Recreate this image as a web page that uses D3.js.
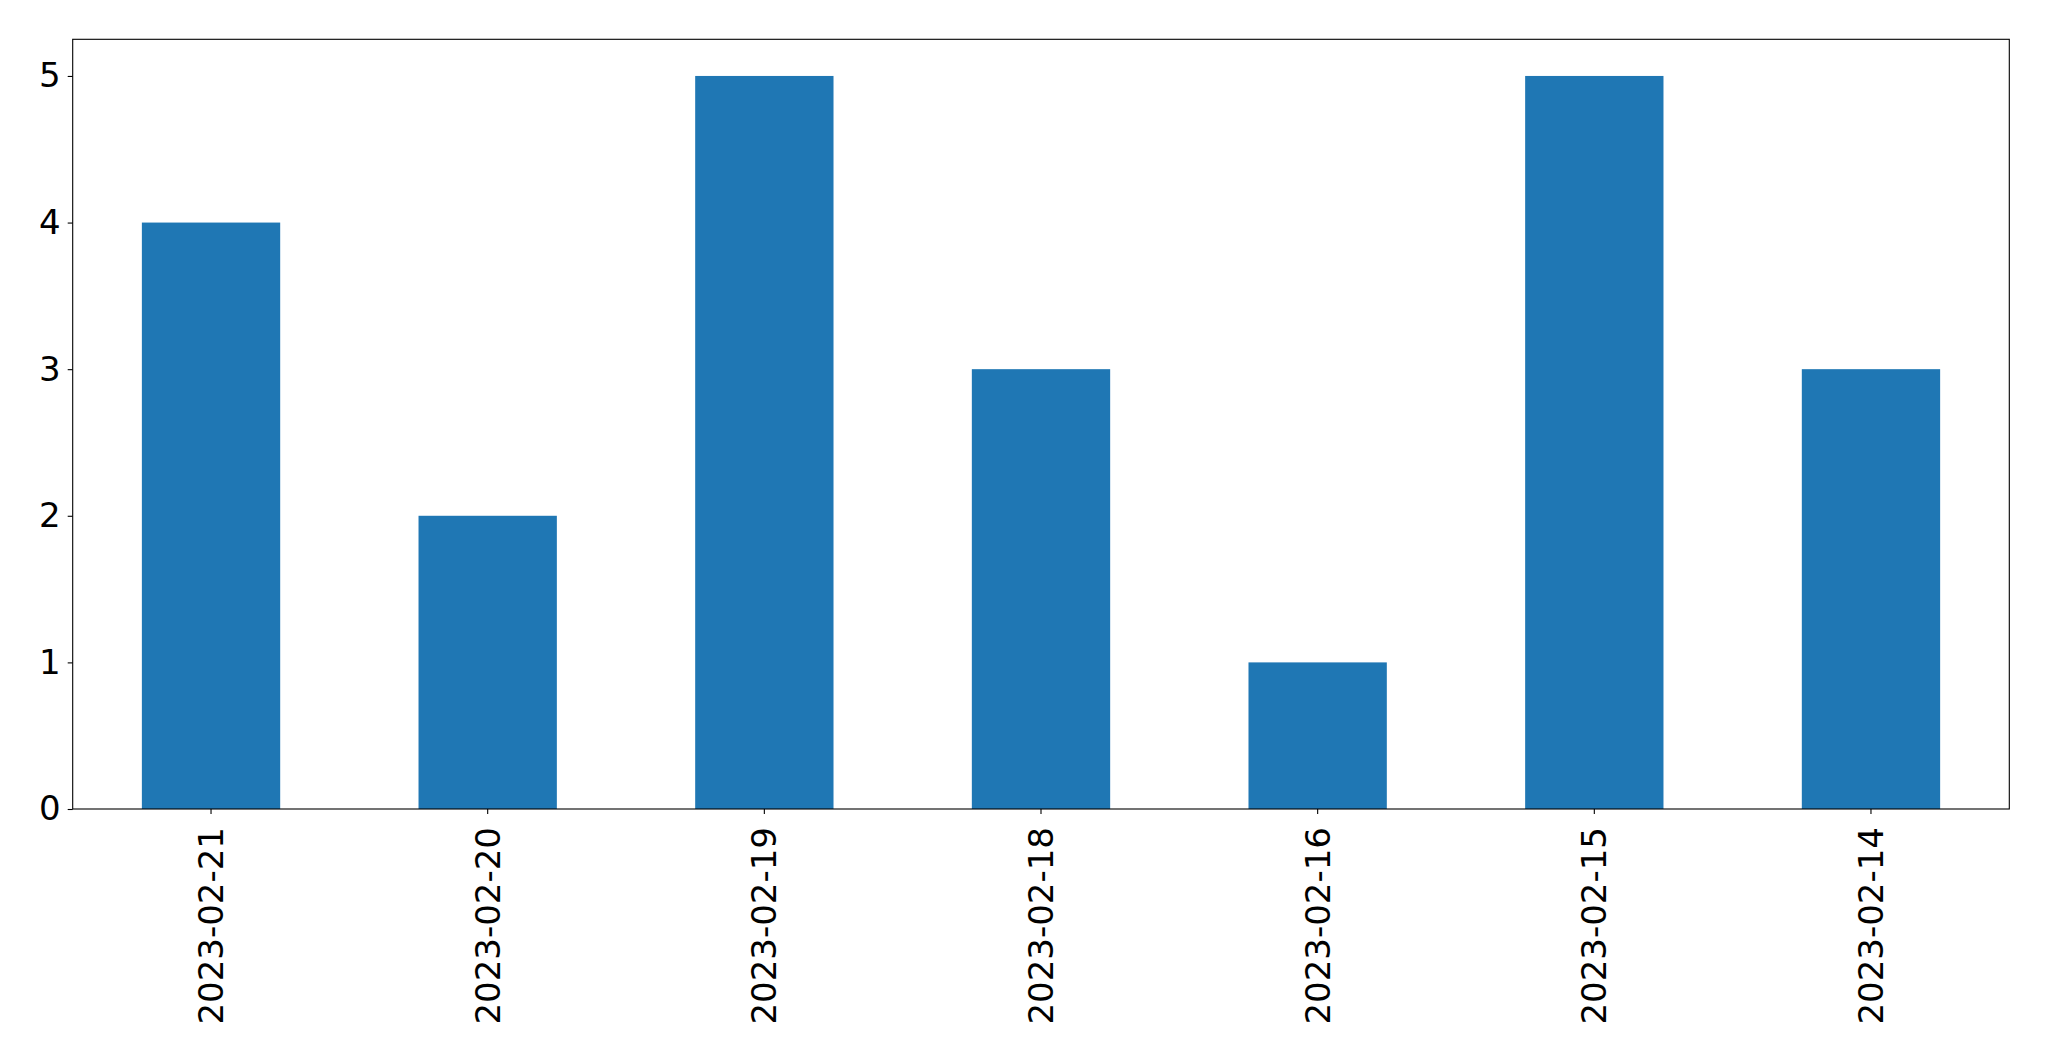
<!DOCTYPE html>
<html><head><meta charset="utf-8">
<script src="https://cdn.jsdelivr.net/npm/d3@7"></script>
<style>body{margin:0;background:#fff}svg{display:block}</style>
</head><body>
<script>
const categories = ["2023-02-21","2023-02-20","2023-02-19","2023-02-18","2023-02-16","2023-02-15","2023-02-14"];
const values = [4,2,5,3,1,5,3];
const yTicks = [0,1,2,3,4,5];

const W = 2049, H = 1061;
const m = {left: 72.7, right: 2049-2009.3, top: 39.3, bottom: 1061-809};
const svg = d3.select("body").append("svg").attr("width", W).attr("height", H);
const x = d3.scaleBand().domain(categories).range([m.left, W-m.right]).paddingInner(0.5).paddingOuter(0.25);
const y = d3.scaleLinear().domain([0,5.25]).range([H-m.bottom, m.top]);
const font = "'DejaVu Sans', sans-serif";
const fs = 34;

svg.append("g").selectAll("rect").data(values).join("rect")
  .attr("x",(d,i)=>x(categories[i])).attr("width",x.bandwidth())
  .attr("y",d=>y(d)).attr("height",d=>y(0)-y(d)).attr("fill","#1f77b4");

const ya = svg.append("g").attr("transform",`translate(${m.left},0)`)
  .call(d3.axisLeft(y).tickValues(yTicks).tickFormat(d3.format("d")).tickSize(5).tickPadding(7));
ya.select(".domain").remove();
ya.selectAll("text").attr("font-family",font).attr("font-size",fs).attr("fill","#000");
ya.selectAll("line").attr("stroke","#000").attr("stroke-width",1.1);

const xa = svg.append("g").attr("transform",`translate(0,${H-m.bottom})`)
  .call(d3.axisBottom(x).tickSize(5).tickPadding(0));
xa.select(".domain").remove();
xa.selectAll("line").attr("stroke","#000").attr("stroke-width",1.1);
xa.selectAll("text").attr("font-family",font).attr("font-size",fs).attr("fill","#000")
  .attr("transform","translate(0,18) rotate(-90)").attr("text-anchor","end").attr("dy","0.35em").attr("y",0).attr("x",0);

svg.append("rect").attr("x",m.left).attr("y",m.top).attr("width",W-m.right-m.left).attr("height",H-m.bottom-m.top)
  .attr("fill","none").attr("stroke","#000").attr("stroke-width",1.1);
</script>
</body></html>
